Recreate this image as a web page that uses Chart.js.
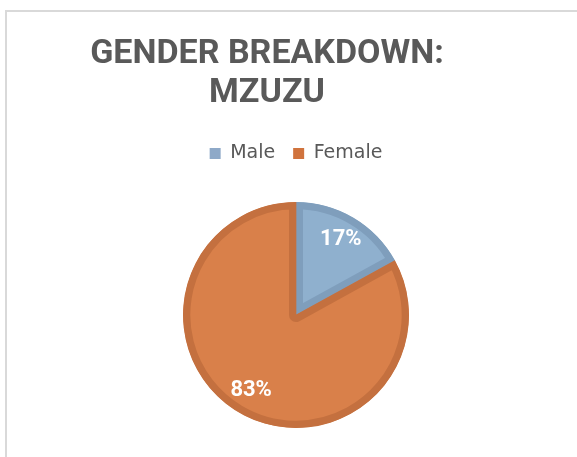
<!DOCTYPE html>
<html>
<head>
<meta charset="utf-8">
<script src="https://cdn.jsdelivr.net/npm/chart.js@4.4.0/dist/chart.umd.min.js"></script>
<style>
  html, body { margin: 0; padding: 0; background: #fff; }
  #frame { position: absolute; left: 5px; top: 10px; width: 600px; height: 460px;
           border-left: 2px solid #d9d9d9; border-top: 2px solid #d9d9d9; }
  #chart { position: absolute; left: 0; top: 0; }
</style>
</head>
<body>
<div id="frame"></div>
<canvas id="chart" width="577" height="457"></canvas>
<script>
// dados do gráfico
const TITULO = ['GENDER BREAKDOWN:', 'MZUZU'];
const CATEGORIAS = ['Male', 'Female'];
const VALORES = [17, 83];
const CORES = ['#8FB0CE', '#D9804A'];
const BORDAS = ['#7F9EBC', '#C4703F'];
const CORES_LEGENDA = ['#8EA9C8', '#D0733D'];

// titulo desenhado a mao (fica deslocado do centro da pizza)
const tituloPlugin = {
  id: 'tituloPlugin',
  afterDraw(chart) {
    const ctx = chart.ctx;
    ctx.save();
    ctx.font = 'bold 34px Roboto';
    ctx.fillStyle = '#595959';
    ctx.textAlign = 'center';
    ctx.textBaseline = 'alphabetic';
    ctx.fillText(TITULO[0], 267, 63);
    ctx.fillText(TITULO[1], 267, 102);
    ctx.restore();
  }
};

// porcentagens dentro das fatias
const rotulosPlugin = {
  id: 'rotulosPlugin',
  afterDatasetsDraw(chart) {
    const ctx = chart.ctx;
    const meta = chart.getDatasetMeta(0);
    const total = VALORES.reduce((a, b) => a + b, 0);
    ctx.save();
    ctx.font = 'bold 22px Roboto';
    ctx.fillStyle = '#ffffff';
    ctx.textAlign = 'center';
    ctx.textBaseline = 'middle';
    meta.data.forEach((arco, i) => {
      const p = arco.getProps(['x', 'y', 'startAngle', 'endAngle', 'outerRadius']);
      const meio = (p.startAngle + p.endAngle) / 2;
      const r = p.outerRadius * 0.78;
      const txt = Math.round(VALORES[i] / total * 100) + '%';
      ctx.fillText(txt, p.x + Math.cos(meio) * r, p.y + Math.sin(meio) * r);
    });
    ctx.restore();
  }
};

const data = {
  labels: CATEGORIAS,
  datasets: [{
    data: VALORES,
    backgroundColor: CORES,
    borderColor: BORDAS,
    borderWidth: 7,
    borderAlign: 'inner',
    radius: 113
  }]
};

const config = {
  type: 'pie',
  data: data,
  options: {
    responsive: false,
    animation: false,
    layout: {
      padding: { top: 126, left: 15, right: 0, bottom: -3 }
    },
    plugins: {
      title: { display: false },
      tooltip: { enabled: false },
      legend: {
        position: 'top',
        labels: {
          padding: 18,
          boxWidth: 11,
          boxHeight: 11,
          color: '#595959',
          font: { family: 'DejaVu Sans', size: 19 },
          generateLabels(chart) {
            return CATEGORIAS.map((nome, i) => ({
              text: nome,
              fillStyle: CORES_LEGENDA[i],
              strokeStyle: CORES_LEGENDA[i],
              lineWidth: 0,
              fontColor: '#595959',
              index: i,
              hidden: false
            }));
          }
        }
      }
    }
  },
  plugins: [tituloPlugin, rotulosPlugin]
};

const myChart = new Chart(document.getElementById('chart'), config);
</script>
</body>
</html>
